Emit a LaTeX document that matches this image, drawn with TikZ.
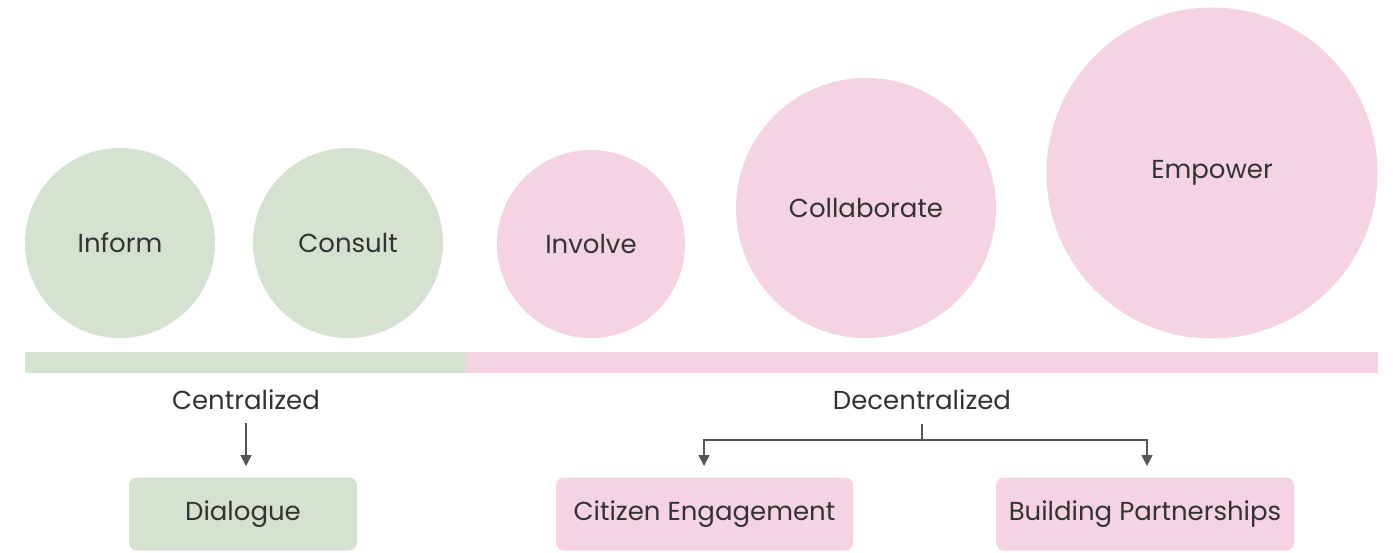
\documentclass[tikz,border=0pt]{standalone}
\usepackage{fontspec}
\setmainfont{Poppins}
\usetikzlibrary{arrows.meta}
\definecolor{cgreen}{HTML}{D4E2CF}
\definecolor{cpink}{HTML}{F5D3E2}
\definecolor{ctext}{HTML}{333333}
\definecolor{carrow}{HTML}{555555}
\tikzset{
  lvl/.style={circle, fill=#1, draw=none, text=ctext, font=\fontsize{26}{31}\selectfont, inner sep=0pt},
  lbl/.style={text=ctext, font=\fontsize{26}{31}\selectfont, inner sep=0pt},
  outbox/.style={fill=#1, rounded corners=8pt, text=ctext, font=\fontsize{26}{31}\selectfont, inner sep=0pt},
  conn/.style={draw=carrow, line width=1.6pt},
  arr/.style={conn, -{Triangle[width=11pt,length=11pt]}}
}
\begin{document}
\begin{tikzpicture}[x=1pt,y=-1pt]
\useasboundingbox (0,0) rectangle (1398,552);
\fill[white] (0,0) rectangle (1398,552);
% circles
\node[lvl=cgreen, minimum size=190pt] (inform) at (120,243) {Inform};
\node[lvl=cgreen, minimum size=190pt] (consult) at (348,243) {Consult};
\node[lvl=cpink, minimum size=188pt] (involve) at (591,244) {Involve};
\node[lvl=cpink, minimum size=260pt] (collab) at (866,208) {Collaborate};
\node[lvl=cpink, minimum size=331pt] (empower) at (1212,173) {Empower};
% bar
\fill[cgreen] (25,352) rectangle (466,373);
\fill[cpink] (466,352) rectangle (1378,373);
% labels
\node[lbl] (central) at (246,400) {Centralized};
\node[lbl] (decentral) at (922,400) {Decentralized};
% boxes
\node[outbox=cgreen, minimum width=228pt, minimum height=73pt] (dialogue) at (243,514) {Dialogue};
\node[outbox=cpink, minimum width=297pt, minimum height=73pt] (citizen) at (704.5,514) {Citizen Engagement};
\node[outbox=cpink, minimum width=298pt, minimum height=73pt] (partner) at (1145,514) {Building Partnerships};
% connectors
\coordinate (cs) at (246,423);
\coordinate (ce) at (246,466);
\draw[arr] (cs) -- (ce);
\coordinate (ds) at (922,424);
\coordinate (dm) at (922,440);
\coordinate (dl) at (704,440);
\coordinate (dr) at (1147,440);
\coordinate (dle) at (704,466);
\coordinate (dre) at (1147,466);
\draw[conn] (ds) -- (dm);
\draw[arr] (dm) -- (dl) -- (dle);
\draw[arr] (dm) -- (dr) -- (dre);
\end{tikzpicture}
\end{document}
